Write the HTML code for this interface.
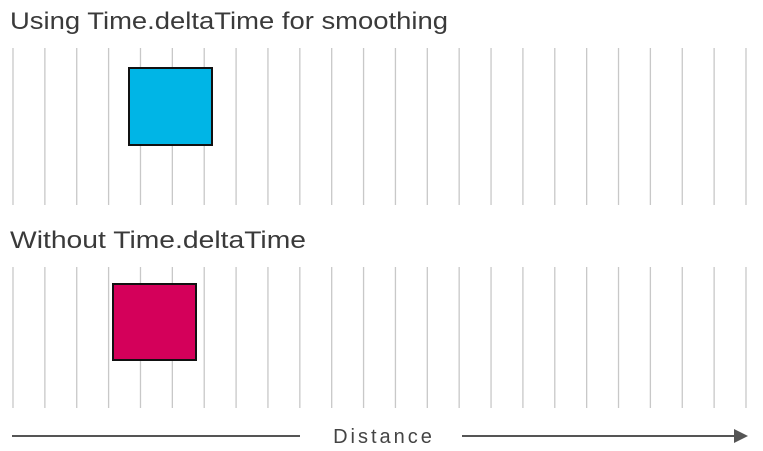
<!DOCTYPE html>
<html><head><meta charset="utf-8"><style>
html,body{margin:0;padding:0;background:#fff;}
svg{display:block;font-family:"Liberation Sans",sans-serif;}
</style></head><body>
<svg width="763" height="451" viewBox="0 0 763 451">
<text x="10" y="29" font-size="24" fill="#3a3a3a" textLength="438" lengthAdjust="spacingAndGlyphs">Using Time.deltaTime for smoothing</text>
<g id="grid-top"></g>
<rect x="129" y="68" width="83" height="77" fill="#00b5e6" stroke="#111" stroke-width="2"/>
<text x="10" y="248" font-size="24" fill="#3a3a3a" textLength="296" lengthAdjust="spacingAndGlyphs">Without Time.deltaTime</text>
<g id="grid-bottom"></g>
<rect x="113" y="284" width="83" height="76" fill="#d4005a" stroke="#111" stroke-width="2"/>
<line x1="12" y1="436" x2="300" y2="436" stroke="#555" stroke-width="2"/>
<line x1="462" y1="436" x2="736" y2="436" stroke="#555" stroke-width="2"/>
<polygon points="734,429 748,436 734,443" fill="#555"/>
<text x="384" y="443" font-size="20" fill="#444" text-anchor="middle" letter-spacing="3">Distance</text>
</svg>
<script>
const lineCount = 24;
const ns="http://www.w3.org/2000/svg";
function addLines(id,y1,y2){
  const g=document.getElementById(id);
  for(let i=0;i<lineCount;i++){
    const x=13+i*(746-13)/(lineCount-1);
    const l=document.createElementNS(ns,'line');
    l.setAttribute('x1',x);l.setAttribute('x2',x);
    l.setAttribute('y1',y1);l.setAttribute('y2',y2);
    l.setAttribute('stroke','#c8c8c8');l.setAttribute('stroke-width','1.3');
    
    
    g.appendChild(l);
  }
}
addLines('grid-top',48,205);
addLines('grid-bottom',267,408);
</script>
</body></html>
